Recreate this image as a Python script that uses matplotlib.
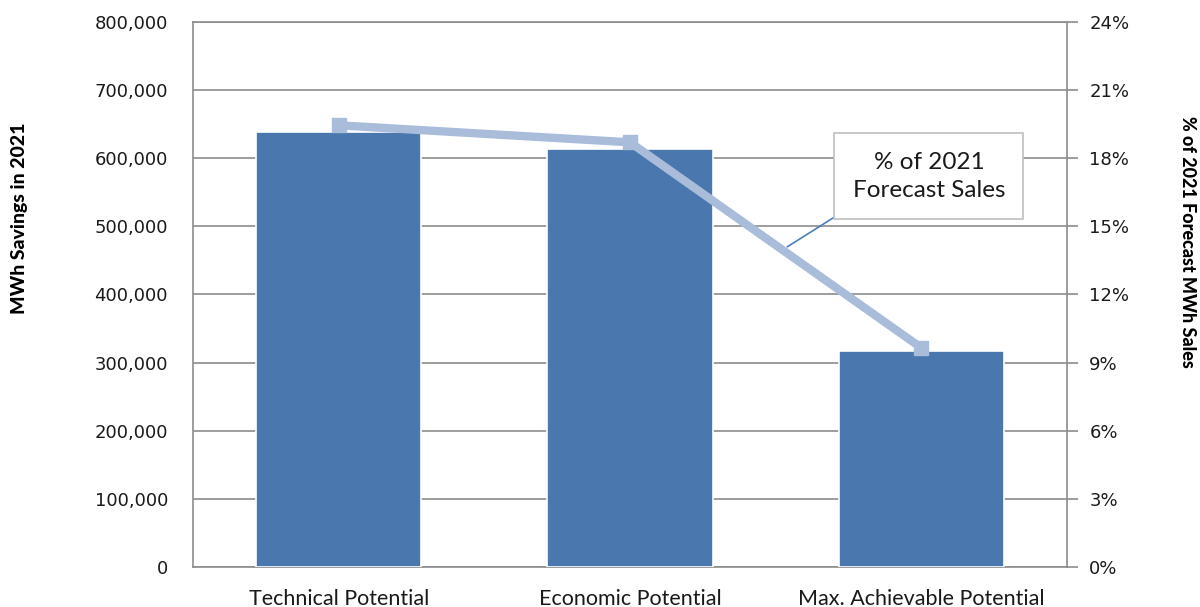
import matplotlib
matplotlib.use("Agg")
import matplotlib.pyplot as plt
from matplotlib.ticker import FuncFormatter

categories = ["Technical Potential", "Economic Potential", "Max. Achievable Potential"]
mwh_savings = [638000, 614000, 317000]
pct_forecast = [19.45, 18.7, 9.65]
left_ticks = [0, 100000, 200000, 300000, 400000, 500000, 600000, 700000, 800000]
right_ticks = [0, 3, 6, 9, 12, 15, 18, 21, 24]

bar_color = "#4A77AD"
line_color = "#A9BCDA"
grid_color = "#8C8C8C"

fig = plt.figure(figsize=(12, 6.07), dpi=100)
ax = fig.add_axes([0.1608, 0.0659, 0.7284, 0.8979])
x = list(range(len(categories)))

ax.bar(x, mwh_savings, width=0.567, color=bar_color, edgecolor="white", linewidth=1.2, zorder=3)
ax.set_xlim(-0.5, 2.5)
ax.set_ylim(0, 800000)
ax.set_yticks(left_ticks)
ax.yaxis.set_major_formatter(FuncFormatter(lambda v, p: f"{int(v):,}"))
ax.grid(axis="y", color=grid_color, linewidth=1.2, zorder=0)
ax.set_xticks(x)
ax.set_xticklabels(categories, fontfamily="Lato", fontsize=15.5, color="#1a1a1a")
ax.tick_params(axis="x", length=0, pad=16)
ax.tick_params(axis="y", labelsize=13, colors=grid_color, labelcolor="#1a1a1a", length=0, pad=18)
for s in ax.spines.values():
    s.set_color(grid_color)
    s.set_linewidth(1.2)

ax2 = ax.twinx()
ax2.set_ylim(0, 24)
ax2.set_yticks(right_ticks)
ax2.yaxis.set_major_formatter(FuncFormatter(lambda v, p: f"{int(v)}%"))
ax2.plot(x, pct_forecast, color=line_color, linewidth=6, marker="s", markersize=10,
         markerfacecolor=line_color, markeredgecolor=line_color, zorder=4)
ax2.tick_params(axis="y", labelsize=13, colors=grid_color, labelcolor="#1a1a1a", length=8, width=1.2,
                direction="out", pad=8)
for s in ax2.spines.values():
    s.set_visible(False)

fig.text(20 / 1200, 1 - 218 / 607, "MWh Savings in 2021", rotation=90, ha="center", va="center",
         fontfamily="Lato", fontweight="black", fontsize=14)
fig.text(1188 / 1200, 1 - 242 / 607, "% of 2021 Forecast MWh Sales", rotation=270, ha="center",
         va="center", fontfamily="Lato", fontweight="black", fontsize=13)

# leader line of the data label
ax2.annotate("", xy=(1.54, 14.1), xytext=(1.713, 15.5), textcoords="data",
             arrowprops=dict(arrowstyle="-", color="#4A7EBB", lw=1.2, shrinkA=0, shrinkB=0),
             zorder=5)
ax2.annotate("% of 2021\nForecast Sales", xy=(2.026, 17.2), xycoords="data",
             ha="center", va="center", fontfamily="Lato", fontsize=17.5,
             color="#1a1a1a", linespacing=1.45,
             bbox=dict(boxstyle="square,pad=0.75", fc="white", ec="#BFBFBF", lw=1.2),
             zorder=6)

fig.savefig("out.png", dpi=100, facecolor="white")
